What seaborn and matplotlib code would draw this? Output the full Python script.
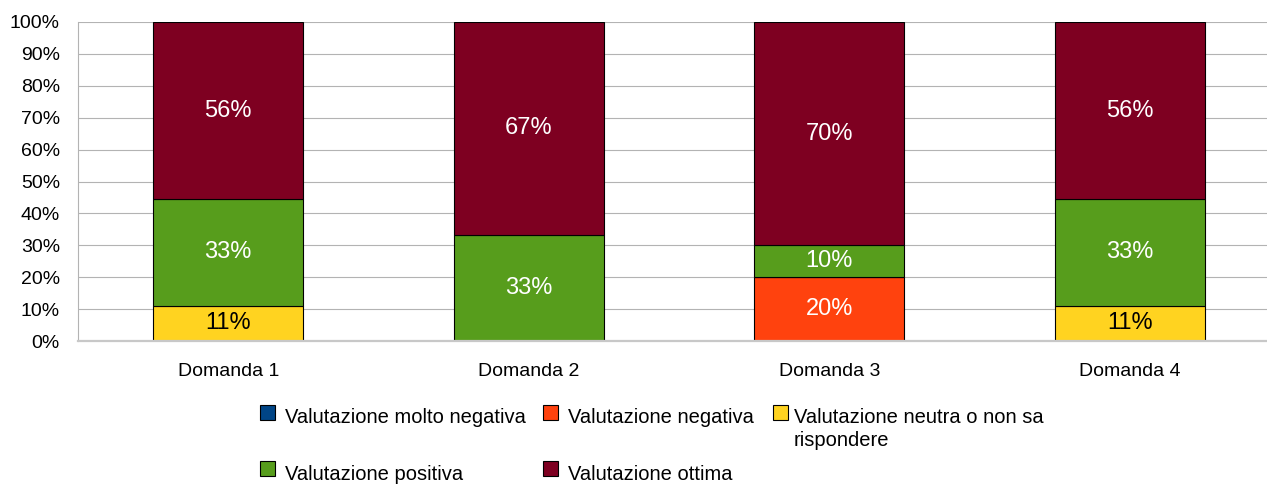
import matplotlib.pyplot as plt
import numpy as np
import pandas as pd
import seaborn as sns
from matplotlib.patches import Rectangle

# dati (percentuali)
domande = ["Domanda 1", "Domanda 2", "Domanda 3", "Domanda 4"]
categorie = [
    "Valutazione molto negativa",
    "Valutazione negativa",
    "Valutazione neutra o non sa rispondere",
    "Valutazione positiva",
    "Valutazione ottima",
]
molto_negativa = [0, 0, 0, 0]
negativa = [0, 0, 20, 0]
neutra = [11.1, 0, 0, 11.1]
positiva = [33.3, 33.3, 10, 33.3]
ottima = [55.6, 66.7, 70, 55.6]
colori = ["#004586", "#ff420e", "#ffd320", "#579d1c", "#7e0021"]
y_ticks = list(range(0, 101, 10))

serie = [molto_negativa, negativa, neutra, positiva, ottima]
df = pd.DataFrame(
    [(d, cat, vals[i]) for cat, vals in zip(categorie, serie) for i, d in enumerate(domande)],
    columns=["domanda", "categoria", "valore"],
)

sns.set_style("white")
plt.rcParams["font.family"] = ["Liberation Sans", "DejaVu Sans"]
plt.rcParams["text.color"] = "black"
plt.rcParams["xtick.labelcolor"] = "black"
plt.rcParams["ytick.labelcolor"] = "black"

W, H = 1267, 484
fig = plt.figure(figsize=(W / 100, H / 100), dpi=100)
ax = fig.add_axes([78 / W, 143 / H, 1202 / W, 319 / H])

# histplot impila l'ultimo livello in basso -> ordine invertito
sns.histplot(
    data=df, x="domanda", weights="valore", hue="categoria",
    hue_order=categorie[::-1], palette=dict(zip(categorie, colori)),
    multiple="stack", discrete=True, shrink=0.5, alpha=1,
    edgecolor="black", linewidth=0.8, legend=False, ax=ax,
)

# etichette dei segmenti
for i, d in enumerate(domande):
    base = 0
    for cat, vals in zip(categorie, serie):
        v = vals[i]
        if v > 0:
            col = "black" if cat == categorie[2] else "white"
            ax.text(i, base + v / 2, f"{v:.0f}%", ha="center", va="center",
                    fontsize=17, color=col)
        base += v

grey = "#b3b3b3"
ax.set_xlim(-0.5, len(domande) - 0.5)
ax.set_ylim(0, 100)
ax.set_yticks(y_ticks)
ax.set_yticklabels([f"{t}%" for t in y_ticks], fontsize=14)
ax.set_xticks(range(len(domande)))
ax.set_xticklabels(domande, fontsize=14)
ax.set_xticks(np.arange(-0.5, len(domande)), minor=True)
ax.tick_params(axis="x", which="major", length=0, pad=16)
ax.tick_params(axis="x", which="minor", length=8, width=0.8, color=grey, direction="out")
ax.tick_params(axis="y", length=8, width=0.8, color=grey, pad=5)
ax.set_xlabel("")
ax.set_ylabel("")
ax.grid(axis="y", color=grey, linewidth=0.8)
ax.set_axisbelow(True)
for s in ["top", "right"]:
    ax.spines[s].set_visible(False)
ax.spines["left"].set_color(grey)
ax.spines["left"].set_linewidth(0.8)
ax.spines["bottom"].set_color("#c8c8c8")
ax.spines["bottom"].set_linewidth(1.6)

# legenda disposta come nell'originale (3 colonne, testo a capo)
leg_x = [260, 543, 773]
txt_x = [285, 568, 794]
posti = [(0, 0), (1, 0), (2, 0), (0, 1), (1, 1)]
marker_top = [405, 461]
etichette = [
    "Valutazione molto negativa",
    "Valutazione negativa",
    "Valutazione neutra o non sa\nrispondere",
    "Valutazione positiva",
    "Valutazione ottima",
]
# baseline dell'ultima riga di ciascuna voce
baseline = [423, 423, 446, 480, 480]
for (c, r), lab, col, b in zip(posti, etichette, colori, baseline):
    fig.add_artist(Rectangle(
        (leg_x[c] / W, (H - marker_top[r] - 15) / H), 15 / W, 15 / H,
        transform=fig.transFigure, facecolor=col, edgecolor="black", linewidth=0.8,
    ))
    fig.text(txt_x[c] / W, (H - b) / H, lab, fontsize=14.5,
             ha="left", va="baseline", linespacing=1.25)

fig.savefig("out.png", dpi=100)
